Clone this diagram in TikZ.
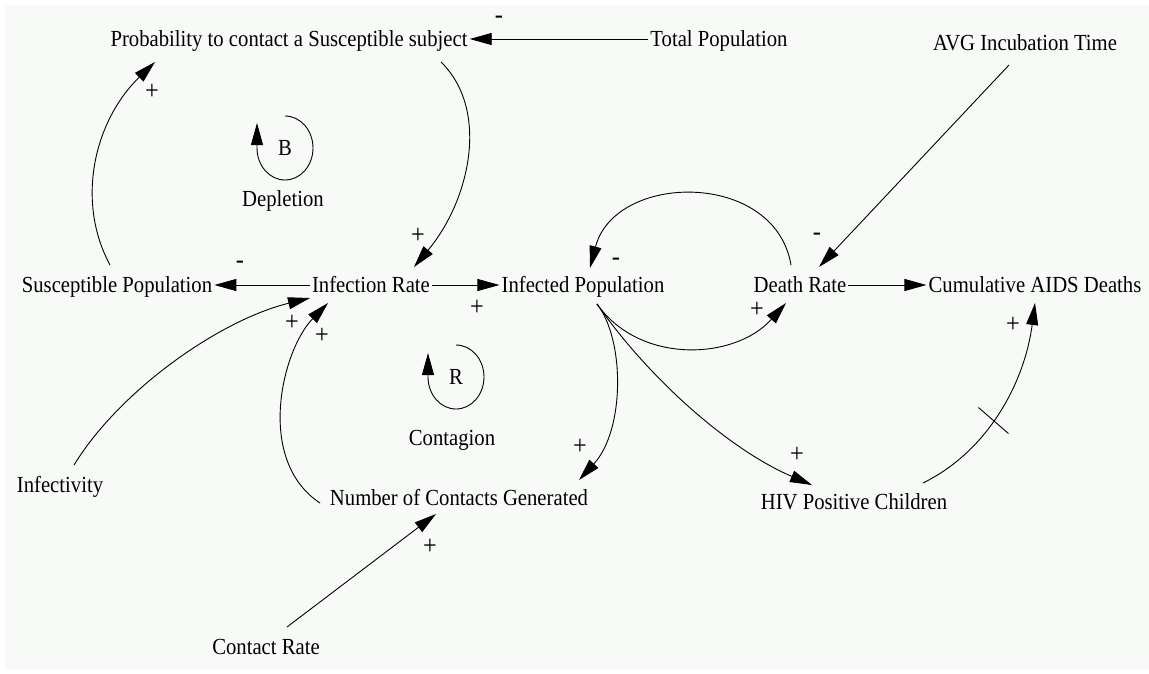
\documentclass[tikz,border=0pt]{standalone}
\usepackage{fontspec}
\setmainfont{Liberation Serif}[FakeStretch=0.9]
\usepackage{xcolor}
\usetikzlibrary{arrows,arrows.meta,positioning,calc}
\definecolor{bg}{RGB}{247,250,247}

\begin{document}
\begin{tikzpicture}[x=1pt, y=-1pt, >={Triangle[length=22pt,width=12pt]},
    var/.style={inner sep=2pt, text height=15pt, text depth=1pt, font=\fontsize{23}{27}\selectfont},
    sgn/.style={inner sep=0pt, font=\fontsize{27}{30}\selectfont},
    link/.style={->, line width=0.9pt}]
    \useasboundingbox (0,0) rectangle (1149,673);
    \fill[white] (0,0) rectangle (1149,673);
    \fill[bg] (5,5) rectangle (1149,670);

    % variables
    \node[var] (prob) at (289,39) {Probability to contact a Susceptible subject};
    \node[var] (total) at (719,39) {Total Population};
    \node[var] (avg) at (1025,43) {AVG Incubation Time};
    \node[var] (susc) at (117,285) {Susceptible Population};
    \node[var] (infrate) at (371,285) {Infection Rate};
    \node[var] (infected) at (583,285) {Infected Population};
    \node[var] (death) at (800,285) {Death Rate};
    \node[var] (cumul) at (1035,285) {Cumulative AIDS Deaths};
    \node[var] (infectivity) at (60,485) {Infectivity};
    \node[var] (contacts) at (459,498) {Number of Contacts Generated};
    \node[var] (hiv) at (854,502) {HIV Positive Children};
    \node[var] (crate) at (266,647) {Contact Rate};

    % loops
    \node[var] (bsym) at (285,148) {B};
    \node[var] (depl) at (283,199) {Depletion};
    \node[var] (rsym) at (456,377) {R};
    \node[var] (contag) at (452,438) {Contagion};
    \draw[link] ($(bsym)+(0,-32)$) arc[start angle=90, end angle=-180, x radius=28pt, y radius=32pt] -- ++(0,-25);
    \draw[link] ($(rsym)+(0,-32)$) arc[start angle=90, end angle=-180, x radius=28pt, y radius=32pt] -- ++(0,-24);

    % straight links
    \draw[link] (total) -- (prob);
    \draw[link] (infrate) -- (susc);
    \draw[link] (infrate) -- (infected);
    \draw[link] (death) -- (cumul);
    \draw[link] ($(avg)+(-16,22)$) -- ($(death)+(19,-18)$);
    \draw[link] ($(crate)+(21,-20)$) -- ($(contacts)+(-23,16)$);

    % curved links
    \draw[link] ($(susc)+(-7,-20)$) .. controls (75,200) and (95,120) .. ($(prob)+(-134,23)$);
    \draw[link] ($(prob)+(152,23)$) .. controls (490,110) and (470,200) .. ($(infrate)+(43,-18)$);
    \draw[link] ($(infectivity)+(14,-20)$) .. controls (120,390) and (220,320) .. ($(infrate)+(-61,13)$);
    \draw[link] ($(contacts)+(-139,5)$) .. controls (255,460) and (282,350) .. ($(infrate)+(-43,18)$);
    \draw[link] ($(infected)+(14,19)$) .. controls (640,365) and (735,360) .. ($(death)+(-14,18)$);
    \draw[link] ($(infected)+(14,19)$) .. controls (625,340) and (625,430) .. ($(contacts)+(120,-18)$);
    \draw[link] ($(infected)+(14,19)$) .. controls (650,380) and (730,450) .. ($(hiv)+(-42,-17)$);
    \draw[link] ($(death)+(-9,-20)$) .. controls (775,170) and (615,172) .. ($(infected)+(7,-17)$);
    \draw[link] ($(hiv)+(69,-19)$) .. controls (990,450) and (1025,380) .. ($(cumul)+(0,18)$) coordinate[pos=0.44] (dly);
    \draw[line width=0.9pt] ($(dly)+(-15,-13)$) -- ($(dly)+(15,13)$);

    % polarities
    \node[sgn] (sTot) at (499,20) {-};
    \node[sgn] (sSus) at (152,92) {+};
    \node[sgn] (sPro) at (418,236) {+};
    \node[sgn] (sRat) at (240,265) {-};
    \node[sgn] (sInf) at (477,308) {+};
    \node[sgn] (sIty) at (292,323) {+};
    \node[sgn] (sCon) at (322,336) {+};
    \node[sgn] (sDth) at (616,262) {-};
    \node[sgn] (sAvg) at (817,237) {-};
    \node[sgn] (sIdr) at (757,310) {+};
    \node[sgn] (sHiv) at (1013,325) {+};
    \node[sgn] (sNum) at (580,447) {+};
    \node[sgn] (sChi) at (797,455) {+};
    \node[sgn] (sCrt) at (430,547) {+};
\end{tikzpicture}
\end{document}
